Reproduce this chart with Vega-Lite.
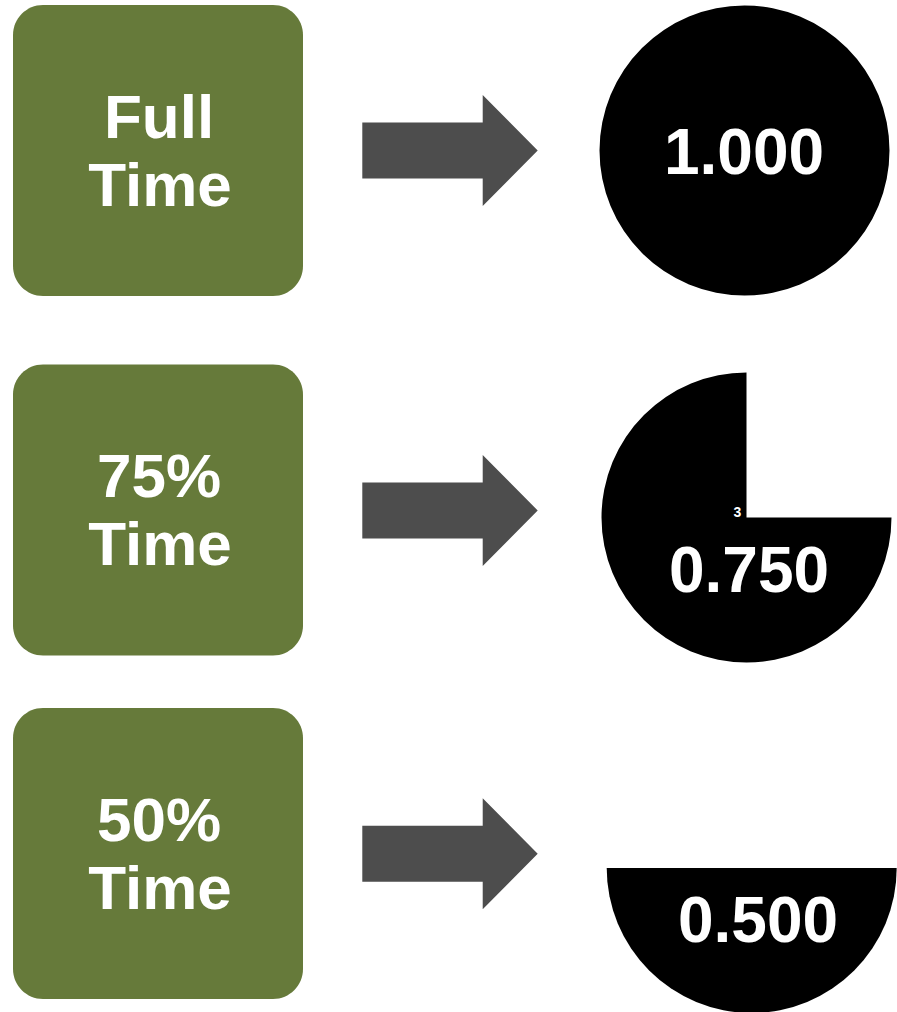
{
  "$schema": "https://vega.github.io/schema/vega-lite/v6.json",
  "width": 897,
  "height": 1012,
  "autosize": {"type": "fit", "contains": "padding"},
  "padding": 0,
  "background": "white",
  "config": {"view": {"stroke": null}},
  "datasets": {
    "rows": [
      {"time": "Full Time", "line1": "Full", "line2": "Time", "fte": 1.0, "note": ""},
      {"time": "75% Time", "line1": "75%", "line2": "Time", "fte": 0.75, "note": "3"},
      {"time": "50% Time", "line1": "50%", "line2": "Time", "fte": 0.5, "note": ""}
    ]
  },
  "data": {"name": "rows"},
  "layer": [
    {
      "mark": {"type": "rect", "width": 290, "height": 291, "cornerRadius": 30, "color": "#667a3a"},
      "encoding": {
        "x": {"field": "fte", "type": "quantitative", "axis": null, "scale": {"domain": [0.5, 1], "range": [158, 158], "nice": false, "zero": false}},
        "y": {"field": "fte", "type": "quantitative", "axis": null, "scale": {"domain": [1, 0.75, 0.5], "range": [150.5, 510, 853.5], "nice": false, "zero": false}}
      }
    },
    {
      "mark": {"type": "text", "font": "Liberation Sans", "fontWeight": "bold", "fontSize": 62, "color": "white", "align": "center", "baseline": "alphabetic", "dy": -13},
      "encoding": {
        "x": {"field": "fte", "type": "quantitative", "axis": null, "scale": {"domain": [0.5, 1], "range": [159, 159], "nice": false, "zero": false}},
        "y": {"field": "fte", "type": "quantitative", "axis": null, "scale": {"domain": [1, 0.75, 0.5], "range": [150.5, 510, 853.5], "nice": false, "zero": false}},
        "text": {"field": "line1"}
      }
    },
    {
      "mark": {"type": "text", "font": "Liberation Sans", "fontWeight": "bold", "fontSize": 62, "color": "white", "align": "center", "baseline": "alphabetic", "dy": 55},
      "encoding": {
        "x": {"field": "fte", "type": "quantitative", "axis": null, "scale": {"domain": [0.5, 1], "range": [160, 160], "nice": false, "zero": false}},
        "y": {"field": "fte", "type": "quantitative", "axis": null, "scale": {"domain": [1, 0.75, 0.5], "range": [150.5, 510, 853.5], "nice": false, "zero": false}},
        "text": {"field": "line2"}
      }
    },
    {
      "mark": {"type": "point", "shape": "M -1 -0.319 L 0.373 -0.319 L 0.373 -0.633 L 1 0 L 0.373 0.633 L 0.373 0.319 L -1 0.319 Z", "size": 30765, "filled": true, "color": "#4d4d4d", "opacity": 1, "strokeWidth": 0},
      "encoding": {
        "x": {"field": "fte", "type": "quantitative", "axis": null, "scale": {"domain": [0.5, 1], "range": [450, 450], "nice": false, "zero": false}},
        "y": {"field": "fte", "type": "quantitative", "axis": null, "scale": {"domain": [1, 0.75, 0.5], "range": [150.5, 510.5, 853.7], "nice": false, "zero": false}}
      }
    },
    {
      "mark": {"type": "arc", "outerRadius": 145, "color": "black"},
      "encoding": {
        "x": {"field": "fte", "type": "quantitative", "axis": null, "scale": {"domain": [1, 0.75, 0.5], "range": [744.5, 746.5, 751.7], "nice": false, "zero": false}},
        "y": {"field": "fte", "type": "quantitative", "axis": null, "scale": {"domain": [1, 0.75, 0.5], "range": [150.5, 517.5, 868], "nice": false, "zero": false}},
        "theta": {"field": "fte", "type": "quantitative", "stack": null, "scale": {"domain": [0, 1], "range": [1.5707963, 7.8539816]}}
      }
    },
    {
      "mark": {"type": "text", "font": "Liberation Sans", "fontWeight": "bold", "fontSize": 64, "color": "white", "align": "center", "baseline": "alphabetic"},
      "encoding": {
        "x": {"field": "fte", "type": "quantitative", "axis": null, "scale": {"domain": [1, 0.75, 0.5], "range": [744, 749, 758], "nice": false, "zero": false}},
        "y": {"field": "fte", "type": "quantitative", "axis": null, "scale": {"domain": [1, 0.75, 0.5], "range": [174, 591.7, 941.7], "nice": false, "zero": false}},
        "text": {"field": "fte", "type": "quantitative", "format": ".3f"}
      }
    },
    {
      "mark": {"type": "text", "font": "Liberation Sans", "fontWeight": "bold", "fontSize": 14, "color": "white", "align": "center", "baseline": "alphabetic"},
      "encoding": {
        "x": {"field": "fte", "type": "quantitative", "axis": null, "scale": {"domain": [0.5, 1], "range": [737.5, 737.5], "nice": false, "zero": false}},
        "y": {"field": "fte", "type": "quantitative", "axis": null, "scale": {"domain": [0.5, 1], "range": [516.5, 516.5], "nice": false, "zero": false}},
        "text": {"field": "note"}
      }
    }
  ],
  "resolve": {"scale": {"x": "independent", "y": "independent", "theta": "independent"}}
}
